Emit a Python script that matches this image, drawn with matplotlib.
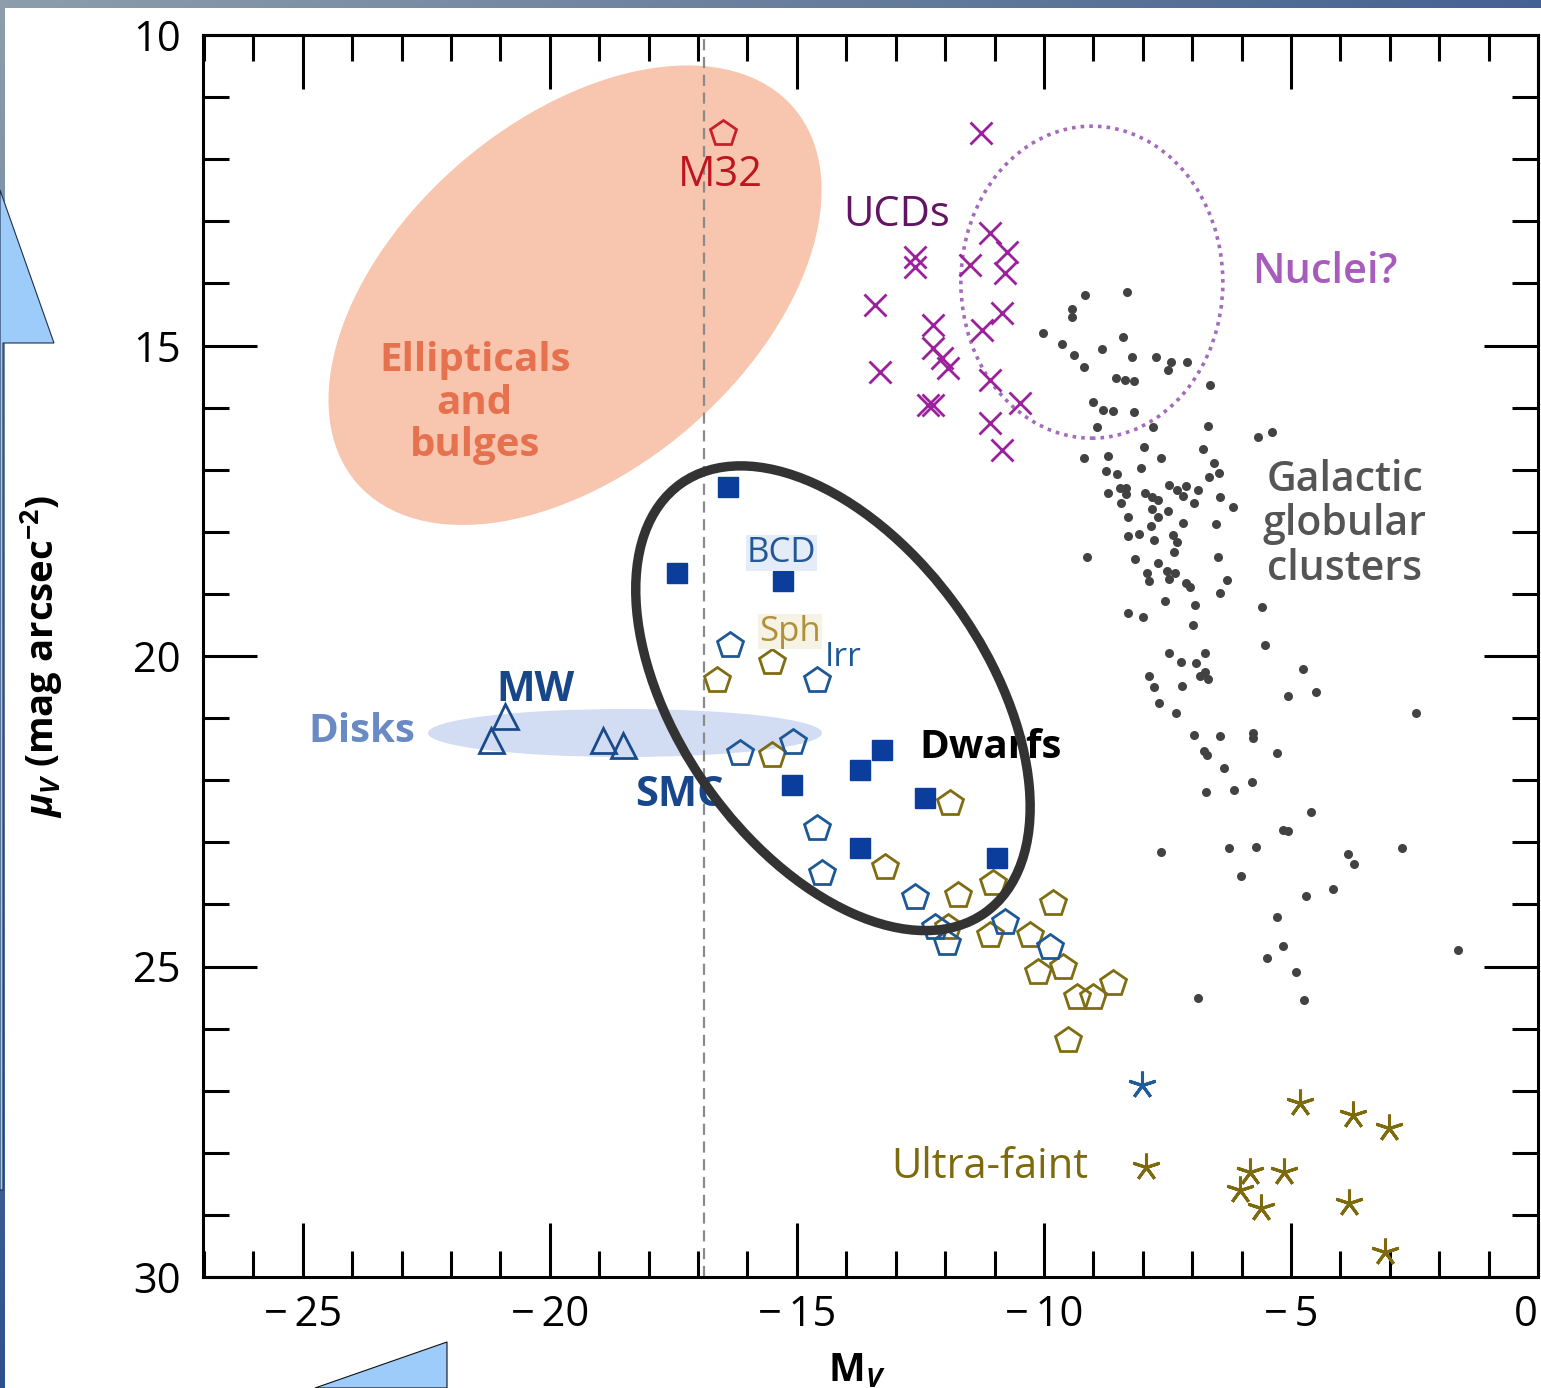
import matplotlib
matplotlib.use('Agg')
import matplotlib.pyplot as plt
import numpy as np
from matplotlib import transforms
from matplotlib.colors import LinearSegmentedColormap
from matplotlib.patches import Ellipse, Polygon, Rectangle
from matplotlib.ticker import MultipleLocator, FuncFormatter

plt.rcParams['font.family'] = ['Open Sans', 'DejaVu Sans']
plt.rcParams['mathtext.fontset'] = 'custom'
plt.rcParams['mathtext.rm'] = 'Open Sans:bold'
plt.rcParams['mathtext.bf'] = 'Open Sans:bold'
plt.rcParams['mathtext.it'] = 'Open Sans:italic:bold'

# Galactic globular clusters (M_V, mu_V)
gc_mv = [-9.17, -8.32, -9.43, -9.43, -10.02, -8.40, -9.64, -8.83, -9.39, -8.22,
         -7.73, -7.43, -7.11, -9.19, -7.49, -8.54, -8.36, -8.18, -6.64, -9.01,
         -8.81, -8.60, -8.18, -7.79, -8.93, -6.68, -5.67, -5.38, -7.98, -6.78,
         -9.19, -8.70, -7.63, -8.04, -6.56, -8.74, -8.52, -6.46, -6.66, -8.46,
         -8.34, -8.70, -8.34, -7.47, -7.31, -7.13, -7.19, -6.88, -7.96, -7.81,
         -7.69, -6.44, -8.44, -6.96, -7.81, -7.49, -6.17, -8.30, -7.69, -7.19,
         -7.83, -6.52, -8.30, -8.08, -7.77, -7.39, -7.31, -7.37, -9.13, -8.16,
         -6.48, -7.69, -7.91, -7.87, -7.51, -7.35, -7.47, -7.13, -7.04, -6.30,
         -6.44, -7.55, -6.94, -5.59, -8.30, -8.00, -6.98, -5.53, -7.47, -6.74,
         -7.23, -6.92, -7.87, -6.84, -6.74, -6.68, -4.76, -7.77, -7.21, -5.06,
         -4.49, -7.67, -7.33, -2.47, -6.96, -6.44, -5.77, -5.77, -6.76, -6.70,
         -5.28, -6.36, -5.79, -6.72, -6.15, -4.60, -5.16, -5.06, -7.63, -6.26,
         -5.71, -2.75, -3.85, -3.72, -6.01, -4.70, -4.15, -5.28, -5.16, -5.49,
         -4.90, -6.88, -4.74, -1.62]
gc_mu = [14.19, 14.14, 14.41, 14.54, 14.80, 14.86, 14.98, 15.06, 15.15, 15.19,
         15.19, 15.27, 15.27, 15.35, 15.39, 15.52, 15.56, 15.57, 15.64, 15.91,
         16.04, 16.05, 16.07, 16.31, 16.31, 16.30, 16.47, 16.39, 16.63, 16.67,
         16.81, 16.78, 16.81, 16.97, 16.89, 17.02, 17.07, 17.05, 17.12, 17.29,
         17.29, 17.38, 17.39, 17.25, 17.33, 17.26, 17.42, 17.33, 17.38, 17.44,
         17.49, 17.44, 17.54, 17.54, 17.63, 17.67, 17.60, 17.76, 17.76, 17.86,
         17.91, 17.87, 18.07, 18.04, 18.13, 18.05, 18.16, 18.33, 18.41, 18.44,
         18.41, 18.50, 18.66, 18.79, 18.63, 18.66, 18.76, 18.82, 18.89, 18.78,
         18.99, 19.11, 19.18, 19.21, 19.31, 19.37, 19.50, 19.82, 19.95, 19.95,
         20.10, 20.11, 20.32, 20.32, 20.26, 20.37, 20.21, 20.50, 20.48, 20.64,
         20.58, 20.76, 20.92, 20.92, 21.27, 21.29, 21.24, 21.32, 21.53, 21.59,
         21.56, 21.80, 22.03, 22.19, 22.16, 22.51, 22.80, 22.82, 23.16, 23.09,
         23.08, 23.09, 23.19, 23.35, 23.54, 23.86, 23.75, 24.20, 24.67, 24.86,
         25.09, 25.51, 25.54, 24.73]

# ultra-compact dwarfs
ucd_mv = [-11.28, -11.09, -10.75, -12.61, -12.61, -11.50, -10.79, -13.42, -12.25, -10.85,
          -11.25, -12.25, -12.06, -11.94, -13.32, -11.09, -12.35, -12.25, -10.49, -11.09,
          -10.85]
ucd_mu = [11.58, 13.19, 13.49, 13.57, 13.74, 13.70, 13.83, 14.35, 14.67, 14.48,
          14.75, 15.04, 15.20, 15.36, 15.43, 15.56, 15.96, 15.96, 15.93, 16.25,
          16.68]

# blue compact dwarfs
bcd_mv = [-16.40, -17.43, -15.28, -13.28, -13.72, -15.10, -12.41, -13.72, -10.95]
bcd_mu = [17.28, 18.66, 18.79, 21.51, 21.84, 22.08, 22.29, 23.09, 23.25]

# dwarf irregulars
irr_mv = [-16.36, -14.60, -16.15, -15.08, -14.60, -14.49, -12.61, -12.21, -11.96, -10.79, -9.88]
irr_mu = [19.82, 20.39, 21.56, 21.38, 22.77, 23.49, 23.88, 24.36, 24.62, 24.28, 24.69]

# dwarf spheroidals
sph_mv = [-15.51, -16.62, -15.51, -11.90, -13.22, -11.74, -11.03, -9.82, -11.94, -11.09,
          -10.28, -10.12, -9.62, -9.33, -9.01, -8.60, -9.51]
sph_mu = [20.10, 20.39, 21.59, 22.37, 23.40, 23.85, 23.66, 23.98, 24.36, 24.49,
          24.49, 25.09, 25.01, 25.49, 25.49, 25.27, 26.18]

# ultra-faint dwarfs
uf_mv = [-4.82, -3.74, -3.02, -7.94, -5.83, -5.14, -6.03, -5.61, -3.83, -3.10]
uf_mu = [27.20, 27.39, 27.60, 28.23, 28.31, 28.31, 28.60, 28.89, 28.81, 29.60]
uf_irr_mv = [-8.02]
uf_irr_mu = [26.91]

# disks (MW, SMC region)
disk_mv = [-20.91, -21.19, -18.93, -18.52]
disk_mu = [20.97, 21.35, 21.35, 21.43]

m32_mv = [-16.50]
m32_mu = [11.58]

mv_cut = -16.88

W, H = 1541, 1388
fig = plt.figure(figsize=(W / 100, H / 100), dpi=100)

# slide background: gradient frame, white page, light-blue arrows
bg = fig.add_axes([0, 0, 1, 1], zorder=-10)
bg.set_xlim(0, W)
bg.set_ylim(H, 0)
bg.set_axis_off()
gx, gy = np.meshgrid(np.linspace(0, 1, 300), np.linspace(0, 1, 300))
frame_cmap = LinearSegmentedColormap.from_list('frame', ['#8d9dab', '#5a7398', '#23488c'])
bg.imshow(np.clip(0.7 * gx + 0.9 * gy, 0, 1), cmap=frame_cmap, extent=[0, W, H, 0],
          aspect='auto', interpolation='bilinear')
bg.add_patch(Rectangle((5, 8), W - 5, H - 8, fc='white', ec='none'))
bg.add_patch(Polygon([(0, 190), (54, 343), (3, 343), (3, 1190), (0, 1190)],
                     closed=True, fc='#9dcbfa', ec='#1f2e4c', lw=0.8))
bg.add_patch(Polygon([(315, H), (447, 1342), (447, H)],
                     closed=True, fc='#9dcbfa', ec='#111111', lw=0.8))

ax = fig.add_axes([203 / W, 1 - 1277 / H, (1538 - 203) / W, (1277 - 35) / H])
ax.set_facecolor('white')
ax.set_xlim(-27.02, 0)
ax.set_ylim(30, 10)


def region(x, y, w, h, angle, **kw):
    # ellipse centred in data coords, sized in inches
    tr = fig.dpi_scale_trans + transforms.ScaledTranslation(x, y, ax.transData)
    ax.add_patch(Ellipse((0, 0), w, h, angle=angle, transform=tr, **kw))


region(-19.49, 14.19, 5.76, 3.50, 40.6, fc='#f8c5af', ec='none', zorder=1)
region(-18.48, 21.24, 3.94, 0.48, 0, fc='#d2ddf3', ec='none', zorder=1)
region(-9.03, 13.98, 2.62, 3.12, 0, fc='none', ec='#a46bbd', lw=2.6,
       ls=(0, (1, 1.4)), zorder=2)
region(-14.27, 20.68, 5.26, 3.08, -54.7, fc='none', ec='#333333', lw=6.8, zorder=8)

ax.axvline(mv_cut, color='#8a8a8a', lw=1.6, ls=(0, (5, 3)), zorder=2)

ax.plot(gc_mv, gc_mu, 'o', ms=6.5, color='#424242', mec='none', zorder=3)
ax.plot(ucd_mv, ucd_mu, 'x', ms=16, mew=2, color='#9c1f9c', zorder=3)
ax.plot(disk_mv, disk_mu, '^', ms=18, mfc='none', mec='#1a4a8a', mew=2, zorder=3)
ax.plot(sph_mv, sph_mu, 'p', ms=19, mfc='none', mec='#7f6d12', mew=2, zorder=3)
ax.plot(irr_mv, irr_mu, 'p', ms=19, mfc='none', mec='#1d5896', mew=2, zorder=4)
ax.plot(bcd_mv, bcd_mu, 's', ms=14, color='#0b3d9c', zorder=4)
ax.plot(m32_mv, m32_mu, 'p', ms=19, mfc='none', mec='#c8202a', mew=2, zorder=4)
ax.plot(uf_mv, uf_mu, ls='none', marker=(5, 2, 0), ms=20, mew=2.2, color='#7d6a0c', zorder=4)
ax.plot(uf_irr_mv, uf_irr_mu, ls='none', marker=(5, 2, 0), ms=20, mew=2.2, color='#1f5c9c', zorder=4)

# region labels
ax.text(-21.52, 15.93, 'Ellipticals\nand\nbulges', color='#e6714f', fontsize=29,
        fontweight='bold', ha='center', va='center', linespacing=1.11, zorder=5)
ax.text(-16.55, 12.25, 'M32', color='#c0141e', fontsize=30, ha='center', va='center', zorder=5)
ax.text(-12.98, 12.90, 'UCDs', color='#641464', fontsize=30, ha='center', va='center', zorder=5)
ax.text(-4.31, 13.82, 'Nuclei?', color='#a75cbd', fontsize=30, fontweight='semibold',
        ha='center', va='center', zorder=5)
ax.text(-3.91, 17.88, 'Galactic\nglobular\nclusters', color='#555555', fontsize=29.5,
        fontweight='semibold', ha='center', va='center', linespacing=1.08, zorder=5)
ax.text(-11.09, 21.48, 'Dwarfs', color='black', fontsize=29, fontweight='bold',
        ha='center', va='center', zorder=5)
ax.text(-15.32, 18.34, 'BCD', color='#255796', fontsize=25, ha='center', va='center', zorder=5,
        bbox=dict(fc='#e4edf7', ec='none', pad=0.5))
ax.text(-15.14, 19.61, 'Sph', color='#b0913a', fontsize=25, ha='center', va='center', zorder=5,
        bbox=dict(fc='#f6f2e4', ec='none', pad=0.5))
ax.text(-14.07, 20.03, 'Irr', color='#1d5896', fontsize=24, ha='center', va='center', zorder=5)
ax.text(-20.30, 20.55, 'MW', color='#17468a', fontsize=29.5, fontweight='bold',
        ha='center', va='center', zorder=5)
ax.text(-23.80, 21.22, 'Disks', color='#6a8ac4', fontsize=29, fontweight='bold',
        ha='center', va='center', zorder=5)
ax.text(-17.37, 22.24, 'SMC', color='#17468a', fontsize=30, fontweight='bold',
        ha='center', va='center', zorder=5)
ax.text(-11.09, 28.23, 'Ultra-faint', color='#7d6a0c', fontsize=30, ha='center',
        va='center', zorder=5)

# axes styling
for s in ax.spines.values():
    s.set_linewidth(2.2)
ax.xaxis.set_major_locator(MultipleLocator(5))
ax.xaxis.set_minor_locator(MultipleLocator(1))
ax.yaxis.set_major_locator(MultipleLocator(5))
ax.yaxis.set_minor_locator(MultipleLocator(1))
ax.tick_params(which='both', direction='in', top=True, right=True, width=2.2, color='black')
ax.tick_params(which='major', length=39, labelsize=30)
ax.tick_params(which='minor', length=19)
ax.tick_params(axis='x', pad=12)
ax.tick_params(axis='y', pad=16)
ax.xaxis.set_major_formatter(FuncFormatter(
    lambda v, p: f'\u2212\u2009{abs(v):.0f}' if v < 0 else f'{v:.0f}'))
ax.yaxis.set_major_formatter(FuncFormatter(lambda v, p: f'{v:.0f}'))

ax.set_ylabel(r'$\mu_V$ (mag arcsec$^{-2}$)', fontsize=27.5, fontweight='bold')
ax.yaxis.set_label_coords(-0.103, 0.5)
ax.set_xlabel(r'$\mathbf{M}_V$', fontsize=28)
ax.xaxis.set_label_coords(0.49, -0.06)

# keep the "0" label at the right edge inside the figure
fig.canvas.draw()
for lbl in ax.get_xticklabels():
    if lbl.get_text() == '0':
        lbl.set_horizontalalignment('right')

fig.savefig('out.png', dpi=100)
